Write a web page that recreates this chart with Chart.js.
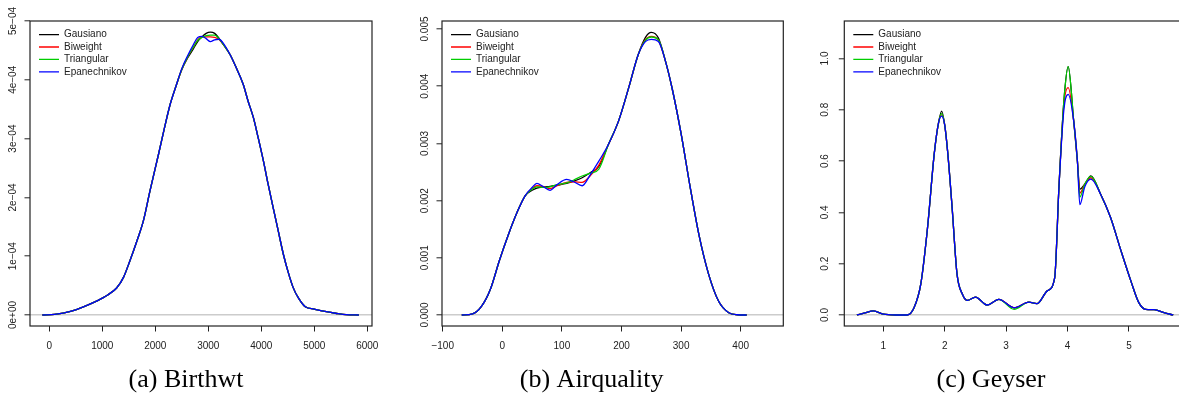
<!DOCTYPE html>
<html><head><meta charset="utf-8">
<script src="https://cdn.jsdelivr.net/npm/chart.js@4.4.1/dist/chart.umd.min.js"></script>
<style>
html,body{margin:0;padding:0;background:#fff;overflow:hidden;width:1179px;height:394px;position:relative}
canvas{position:absolute;top:0}
</style></head>
<body>
<canvas id="c1" width="388" height="400" style="left:0px"></canvas>
<canvas id="c2" width="413" height="400" style="left:400px"></canvas>
<canvas id="c3" width="415" height="400" style="left:800px"></canvas>
<script>
// ---------- series ----------
const seriesNames = ['Gausiano', 'Biweight', 'Triangular', 'Epanechnikov'];
const seriesColors = ['#000000', '#ff0000', '#00cd00', '#0000ff'];

// ---------- (a) Birthwt ----------
const bwX = [-130, 100, 400, 700, 900, 1100, 1270, 1400, 1520, 1650, 1775, 1900, 2060, 2170, 2280, 2390, 2500, 2610, 2720, 2800, 2880, 2960, 3040, 3120, 3200, 3300, 3410, 3530, 3660, 3750, 3850, 3940, 4040, 4130, 4230, 4320, 4420, 4510, 4600, 4700, 4830, 5000, 5200, 5400, 5600, 5840];
const bwGaus = [0, 0.01e-4, 0.06e-4, 0.16e-4, 0.24e-4, 0.34e-4, 0.46e-4, 0.64e-4, 0.92e-4, 1.25e-4, 1.60e-4, 2.11e-4, 2.73e-4, 3.17e-4, 3.58e-4, 3.89e-4, 4.17e-4, 4.37e-4, 4.53e-4, 4.65e-4, 4.73e-4, 4.79e-4, 4.81e-4, 4.79e-4, 4.71e-4, 4.58e-4, 4.43e-4, 4.20e-4, 3.92e-4, 3.64e-4, 3.36e-4, 3.02e-4, 2.62e-4, 2.22e-4, 1.80e-4, 1.43e-4, 1.02e-4, 0.72e-4, 0.47e-4, 0.29e-4, 0.14e-4, 0.10e-4, 0.06e-4, 0.03e-4, 0.005e-4, 0];
const bwBiw  = [0, 0.01e-4, 0.06e-4, 0.16e-4, 0.24e-4, 0.34e-4, 0.46e-4, 0.64e-4, 0.92e-4, 1.25e-4, 1.60e-4, 2.11e-4, 2.73e-4, 3.17e-4, 3.58e-4, 3.89e-4, 4.18e-4, 4.39e-4, 4.56e-4, 4.68e-4, 4.73e-4, 4.73e-4, 4.73e-4, 4.72e-4, 4.69e-4, 4.58e-4, 4.43e-4, 4.20e-4, 3.92e-4, 3.64e-4, 3.36e-4, 3.02e-4, 2.62e-4, 2.22e-4, 1.80e-4, 1.43e-4, 1.02e-4, 0.72e-4, 0.47e-4, 0.29e-4, 0.14e-4, 0.10e-4, 0.06e-4, 0.03e-4, 0.005e-4, 0];
const bwTri  = [0, 0.01e-4, 0.06e-4, 0.16e-4, 0.24e-4, 0.34e-4, 0.46e-4, 0.64e-4, 0.92e-4, 1.25e-4, 1.60e-4, 2.11e-4, 2.73e-4, 3.17e-4, 3.58e-4, 3.89e-4, 4.18e-4, 4.39e-4, 4.56e-4, 4.67e-4, 4.72e-4, 4.75e-4, 4.76e-4, 4.76e-4, 4.70e-4, 4.58e-4, 4.43e-4, 4.20e-4, 3.92e-4, 3.64e-4, 3.36e-4, 3.02e-4, 2.62e-4, 2.22e-4, 1.80e-4, 1.43e-4, 1.02e-4, 0.72e-4, 0.47e-4, 0.29e-4, 0.14e-4, 0.10e-4, 0.06e-4, 0.03e-4, 0.005e-4, 0];
const bwEpa  = [0, 0.01e-4, 0.06e-4, 0.16e-4, 0.24e-4, 0.34e-4, 0.46e-4, 0.64e-4, 0.92e-4, 1.25e-4, 1.60e-4, 2.11e-4, 2.73e-4, 3.17e-4, 3.58e-4, 3.89e-4, 4.19e-4, 4.41e-4, 4.60e-4, 4.72e-4, 4.74e-4, 4.70e-4, 4.65e-4, 4.68e-4, 4.69e-4, 4.60e-4, 4.43e-4, 4.20e-4, 3.92e-4, 3.64e-4, 3.36e-4, 3.02e-4, 2.62e-4, 2.22e-4, 1.80e-4, 1.43e-4, 1.02e-4, 0.72e-4, 0.47e-4, 0.29e-4, 0.14e-4, 0.10e-4, 0.06e-4, 0.03e-4, 0.005e-4, 0];
const bwXTicks = [0, 1000, 2000, 3000, 4000, 5000, 6000];
const bwXLabels = ['0', '1000', '2000', '3000', '4000', '5000', '6000'];
const bwYTicks = [0, 1e-4, 2e-4, 3e-4, 4e-4, 5e-4];
const bwYLabels = ['0e+00', '1e\u221204', '2e\u221204', '3e\u221204', '4e\u221204', '5e\u221204'];

// ---------- (b) Airquality ----------
const aqX = [-68, -50, -35, -20, -5, 10, 25, 38, 50, 58, 68, 80, 92, 108, 120, 134, 148, 162, 178, 195, 212, 228, 240, 250, 262, 274, 285, 300, 315, 330, 346, 363, 380, 395, 410];
const aqGaus = [0, 0.00002, 0.00015, 0.00045, 0.00095, 0.00140, 0.00180, 0.00208, 0.00218, 0.00222, 0.00224, 0.00225, 0.00227, 0.00230, 0.00234, 0.00240, 0.00249, 0.00260, 0.00298, 0.00339, 0.00397, 0.00455, 0.00485, 0.00494, 0.00484, 0.00443, 0.00396, 0.00317, 0.00225, 0.00140, 0.00072, 0.00024, 0.00004, 0.000005, 0];
const aqBiw  = [0, 0.00002, 0.00015, 0.00045, 0.00095, 0.00140, 0.00180, 0.00208, 0.00221, 0.00226, 0.00225, 0.00221, 0.00226, 0.00232, 0.00233, 0.00232, 0.00244, 0.00262, 0.00298, 0.00339, 0.00397, 0.00455, 0.00481, 0.00487, 0.00480, 0.00443, 0.00396, 0.00317, 0.00225, 0.00140, 0.00072, 0.00024, 0.00004, 0.000005, 0];
const aqTri  = [0, 0.00002, 0.00015, 0.00045, 0.00095, 0.00140, 0.00180, 0.00208, 0.00220, 0.00224, 0.00223, 0.00224, 0.00228, 0.00231, 0.00236, 0.00243, 0.00248, 0.00255, 0.00298, 0.00339, 0.00397, 0.00455, 0.00480, 0.00486, 0.00481, 0.00443, 0.00396, 0.00317, 0.00225, 0.00140, 0.00072, 0.00024, 0.00004, 0.000005, 0];
const aqEpa  = [0, 0.00002, 0.00015, 0.00045, 0.00095, 0.00140, 0.00180, 0.00208, 0.00223, 0.00230, 0.00225, 0.00218, 0.00228, 0.00237, 0.00233, 0.00226, 0.00246, 0.00269, 0.00298, 0.00339, 0.00397, 0.00455, 0.00478, 0.00482, 0.00478, 0.00443, 0.00396, 0.00317, 0.00225, 0.00140, 0.00072, 0.00024, 0.00004, 0.000005, 0];
const aqXTicks = [-100, 0, 100, 200, 300, 400];
const aqXLabels = ['\u2212100', '0', '100', '200', '300', '400'];
const aqYTicks = [0, 0.001, 0.002, 0.003, 0.004, 0.005];
const aqYLabels = ['0.000', '0.001', '0.002', '0.003', '0.004', '0.005'];

// ---------- (c) Geyser ----------
const gyX = [0.57, 0.7, 0.84, 1.0, 1.2, 1.39, 1.5, 1.61, 1.72, 1.83, 1.9, 1.95, 2.0, 2.05, 2.12, 2.2, 2.29, 2.37, 2.5, 2.69, 2.88, 3.13, 3.37, 3.5, 3.67, 3.79, 3.86, 3.94, 4.01, 4.1, 4.16, 4.2, 4.28, 4.38, 4.54, 4.7, 4.87, 5.03, 5.16, 5.27, 5.41, 5.57, 5.72];
const gyGaus = [0, 0.008, 0.016, 0.003, 0, 0, 0.028, 0.12, 0.34, 0.63, 0.75, 0.795, 0.74, 0.63, 0.42, 0.16, 0.08, 0.057, 0.07, 0.039, 0.061, 0.028, 0.05, 0.044, 0.094, 0.145, 0.50, 0.834, 0.968, 0.756, 0.60, 0.49, 0.51, 0.542, 0.47, 0.38, 0.25, 0.133, 0.048, 0.022, 0.021, 0.009, 0];
const gyBiw  = [0, 0.008, 0.016, 0.003, 0, 0, 0.028, 0.12, 0.34, 0.63, 0.75, 0.780, 0.74, 0.63, 0.42, 0.16, 0.08, 0.057, 0.07, 0.039, 0.061, 0.028, 0.05, 0.044, 0.094, 0.145, 0.50, 0.820, 0.886, 0.756, 0.60, 0.475, 0.51, 0.535, 0.47, 0.38, 0.25, 0.133, 0.048, 0.022, 0.021, 0.009, 0];
const gyTri  = [0, 0.008, 0.016, 0.003, 0, 0, 0.028, 0.12, 0.34, 0.63, 0.75, 0.785, 0.74, 0.63, 0.42, 0.16, 0.08, 0.057, 0.07, 0.039, 0.061, 0.022, 0.05, 0.044, 0.094, 0.145, 0.50, 0.834, 0.968, 0.756, 0.60, 0.46, 0.51, 0.540, 0.47, 0.38, 0.25, 0.133, 0.048, 0.022, 0.021, 0.009, 0];
const gyEpa  = [0, 0.008, 0.016, 0.003, 0, 0, 0.028, 0.12, 0.34, 0.63, 0.75, 0.775, 0.74, 0.63, 0.42, 0.16, 0.08, 0.057, 0.07, 0.039, 0.061, 0.028, 0.05, 0.044, 0.094, 0.145, 0.50, 0.800, 0.860, 0.756, 0.60, 0.43, 0.50, 0.530, 0.47, 0.38, 0.25, 0.133, 0.048, 0.022, 0.021, 0.009, 0];
const gyXTicks = [1, 2, 3, 4, 5];
const gyXLabels = ['1', '2', '3', '4', '5'];
const gyYTicks = [0, 0.2, 0.4, 0.6, 0.8, 1.0];
const gyYLabels = ['0.0', '0.2', '0.4', '0.6', '0.8', '1.0'];

// ---------- drawing ----------
Chart.defaults.font.family = "'Liberation Sans', Arial, sans-serif";
Chart.defaults.font.size = 10;
const tickFont = { family: "'Liberation Sans', Arial, sans-serif", size: 10 };
const inkColor = '#222222';

const boxPlugin = {
  id: 'plotBox',
  afterDatasetsDraw(chart) {
    const a = chart.chartArea, ctx = chart.ctx;
    ctx.save();
    ctx.strokeStyle = inkColor;
    ctx.lineWidth = 1.2;
    ctx.strokeRect(a.left, a.top, a.right - a.left, a.bottom - a.top);
    ctx.restore();
  }
};
const legendShift = {
  id: 'legendShift',
  afterLayout(chart) {
    const l = chart.legend;
    if (l) { l.left += 6.6; l.top += 27.2; }
  }
};

function makePanel(id, p) {
  const datasets = p.ys.map((ys, k) => ({
    label: seriesNames[k],
    data: p.x.map((xv, i) => ({ x: xv, y: ys[i] })),
    borderColor: seriesColors[k],
    backgroundColor: seriesColors[k],
    borderWidth: 1.3,
    pointRadius: 0,
    fill: false,
    cubicInterpolationMode: 'monotone',
    order: 3 - k
  }));
  return new Chart(document.getElementById(id), {
    type: 'line',
    data: { datasets },
    plugins: [boxPlugin, legendShift],
    options: {
      responsive: false,
      animation: false,
      devicePixelRatio: 1,
      layout: { padding: { left: 0, top: 21, right: p.rightPad, bottom: 0 } },
      scales: {
        x: {
          type: 'linear', min: p.xMin, max: p.xMax,
          afterBuildTicks: s => { s.ticks = p.xTicks.map(v => ({ value: v })); },
          afterFit: s => { s.height = 24; },
          ticks: { callback: (v, i) => p.xLabels[i], font: tickFont, color: inkColor, padding: 9, maxRotation: 0, autoSkip: false },
          grid: { drawOnChartArea: false, drawTicks: true, tickLength: 5.5, color: inkColor, tickColor: inkColor, tickWidth: 1 },
          border: { display: false }
        },
        y: {
          type: 'linear', min: p.yMin, max: p.yMax,
          afterBuildTicks: s => { s.ticks = p.yTicks.map(v => ({ value: v })); },
          afterFit: s => { s.width = p.yAxisW; },
          ticks: { callback: (v, i) => p.yLabels[i], font: tickFont, color: inkColor, minRotation: 90, maxRotation: 90, crossAlign: 'center', padding: p.yTickPad, autoSkip: false },
          grid: {
            drawOnChartArea: true, drawTicks: true, tickLength: 5.5,
            color: c => (c.tick && c.tick.value === 0) ? '#cccccc' : 'rgba(0,0,0,0)',
            lineWidth: 1.6, tickColor: inkColor, tickWidth: 1
          },
          border: { display: false }
        }
      },
      plugins: {
        legend: {
          position: 'chartArea', align: 'start',
          labels: {
            usePointStyle: true, pointStyle: 'line', pointStyleWidth: 20,
            padding: 2.4, font: tickFont, color: inkColor,
            sort: (a, b) => a.datasetIndex - b.datasetIndex
          }
        },
        title: {
          display: true, text: p.caption, position: 'bottom', color: '#000',
          font: { family: "'Liberation Serif', 'Times New Roman', serif", size: 26, weight: 'normal' },
          padding: { top: 15, bottom: 3.8 }
        },
        tooltip: { enabled: false }
      }
    }
  });
}

makePanel('c1', {
  x: bwX, ys: [bwGaus, bwBiw, bwTri, bwEpa],
  xTicks: bwXTicks, xLabels: bwXLabels, yTicks: bwYTicks, yLabels: bwYLabels,
  xMin: -364, xMax: 6089, yMin: -0.187e-4, yMax: 5.0e-4,
  yAxisW: 30, rightPad: 16, yTickPad: -3, caption: '(a) Birthwt'
});
makePanel('c2', {
  x: aqX, ys: [aqGaus, aqBiw, aqTri, aqEpa],
  xTicks: aqXTicks, xLabels: aqXLabels, yTicks: aqYTicks, yLabels: aqYLabels,
  xMin: -101.2, xMax: 471.5, yMin: -0.000192, yMax: 0.00514,
  yAxisW: 42, rightPad: 29.7, yTickPad: -0.8, caption: '(b) Airquality'
});
makePanel('c3', {
  x: gyX, ys: [gyGaus, gyBiw, gyTri, gyEpa],
  xTicks: gyXTicks, xLabels: gyXLabels, yTicks: gyYTicks, yLabels: gyYLabels,
  xMin: 0.365, xMax: 5.863, yMin: -0.0429, yMax: 1.146,
  yAxisW: 44.3, rightPad: 33, yTickPad: 6.5, caption: '(c) Geyser'
});
</script>
</body></html>
